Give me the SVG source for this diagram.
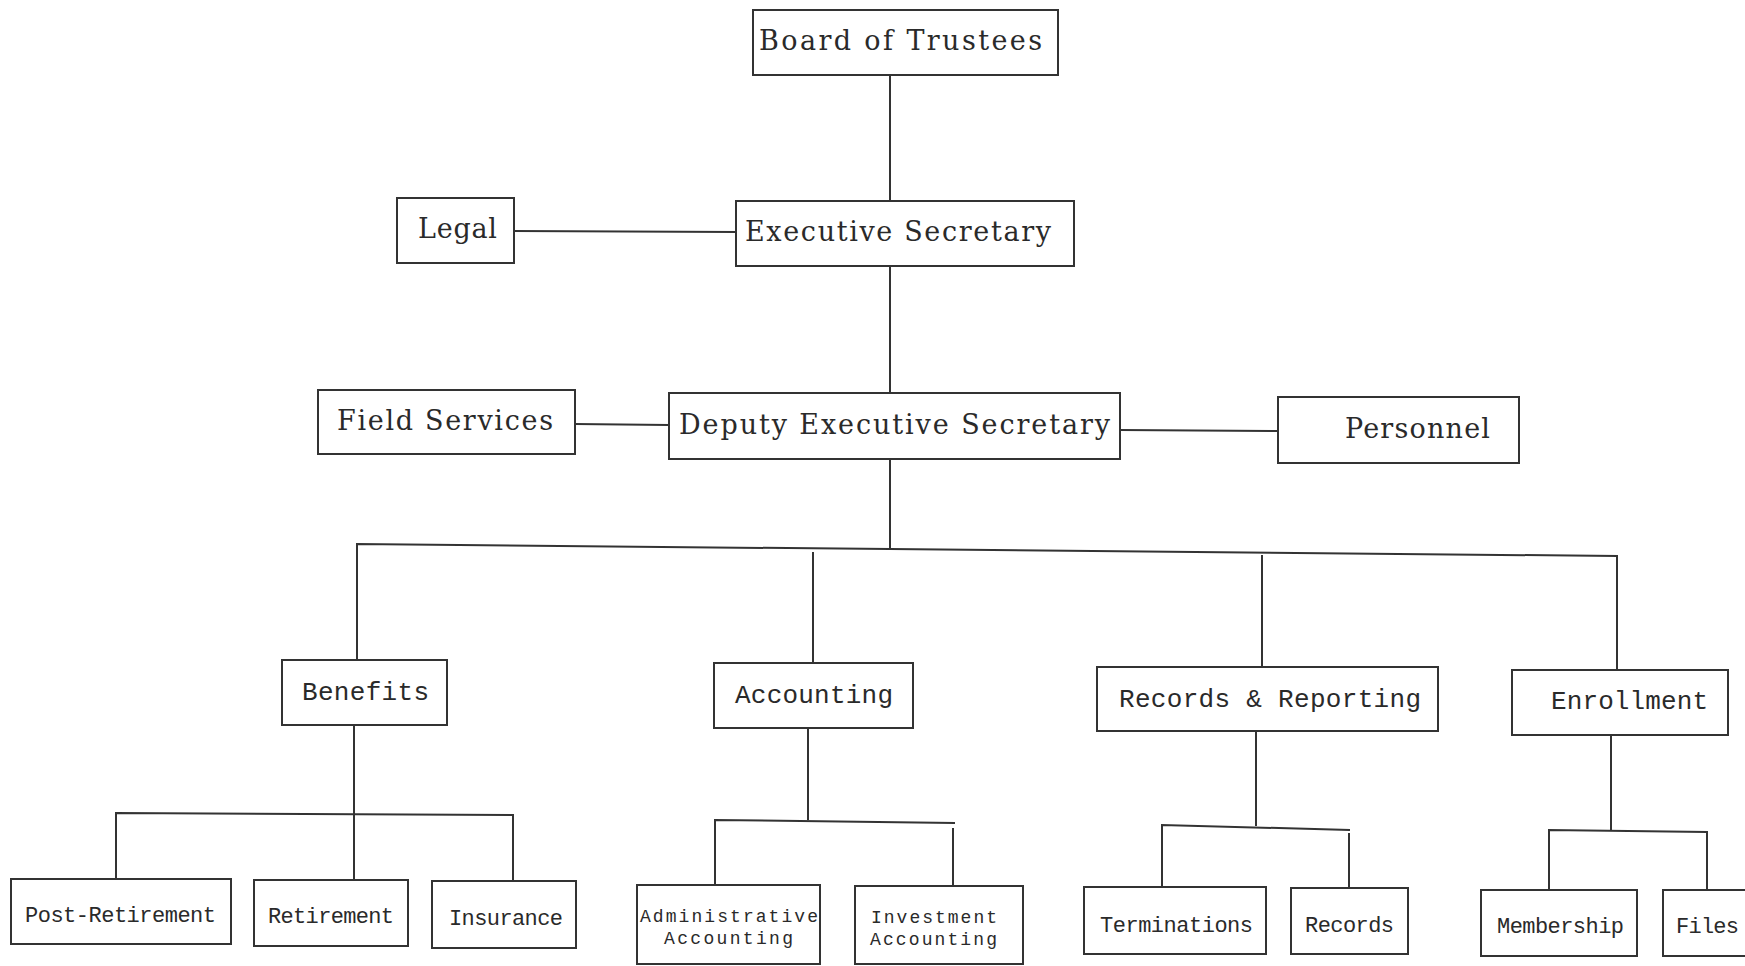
<svg xmlns="http://www.w3.org/2000/svg" width="1745" height="966" viewBox="0 0 1745 966">
<style>
  .box { fill: #ffffff; stroke: #333333; stroke-width: 2; }
  .ln { fill: none; stroke: #333333; stroke-width: 2; }
  .t1 { font-family: "DejaVu Serif", "Liberation Serif", serif; font-size: 27px; fill: #2a2a2a; }
  .t2 { font-family: "Liberation Mono", "DejaVu Sans Mono", monospace; font-size: 26px; fill: #2a2a2a; }
  .t3 { font-family: "Liberation Mono", "DejaVu Sans Mono", monospace; font-size: 22px; fill: #2a2a2a; }
  .t4 { font-family: "Liberation Mono", "DejaVu Sans Mono", monospace; font-size: 18px; fill: #2a2a2a; }
</style>
<rect x="0" y="0" width="1745" height="966" fill="#ffffff"/>
<g id="connectors">
  <line class="ln" x1="890" y1="75" x2="890" y2="201"/>
  <line class="ln" x1="514" y1="231" x2="736" y2="232"/>
  <line class="ln" x1="890" y1="266" x2="890" y2="393"/>
  <line class="ln" x1="575" y1="424" x2="669" y2="425"/>
  <line class="ln" x1="1120" y1="430" x2="1278" y2="431"/>
  <line class="ln" x1="890" y1="459" x2="890" y2="549"/>
  <polyline class="ln" points="357,660 357,544 1617,556 1617,670"/>
  <line class="ln" x1="813" y1="552" x2="813" y2="663"/>
  <line class="ln" x1="1262" y1="555" x2="1262" y2="667"/>
  <line class="ln" x1="354" y1="725" x2="354" y2="880"/>
  <polyline class="ln" points="116,879 116,813 513,815 513,881"/>
  <line class="ln" x1="808" y1="728" x2="808" y2="820"/>
  <polyline class="ln" points="715,885 715,820 955,823"/>
  <line class="ln" x1="953" y1="828" x2="953" y2="886"/>
  <line class="ln" x1="1256" y1="731" x2="1256" y2="826"/>
  <polyline class="ln" points="1162,888 1162,825 1350,830"/>
  <line class="ln" x1="1349" y1="833" x2="1349" y2="888"/>
  <line class="ln" x1="1611" y1="735" x2="1611" y2="831"/>
  <polyline class="ln" points="1549,890 1549,830 1707,832 1707,890"/>
</g>
<g id="board">
  <rect class="box" x="753" y="10" width="305" height="65"/>
  <text class="t1" x="759" y="50" textLength="283" lengthAdjust="spacing">Board of Trustees</text>
</g>
<g id="exec">
  <rect class="box" x="736" y="201" width="338" height="65"/>
  <text class="t1" x="745" y="241" textLength="306" lengthAdjust="spacing">Executive Secretary</text>
</g>
<g id="legal">
  <rect class="box" x="397" y="198" width="117" height="65"/>
  <text class="t1" x="418" y="238" textLength="79" lengthAdjust="spacing">Legal</text>
</g>
<g id="field">
  <rect class="box" x="318" y="390" width="257" height="64"/>
  <text class="t1" x="337" y="430" textLength="216" lengthAdjust="spacing">Field Services</text>
</g>
<g id="deputy">
  <rect class="box" x="669" y="393" width="451" height="66"/>
  <text class="t1" x="679" y="434" textLength="431" lengthAdjust="spacing">Deputy Executive Secretary</text>
</g>
<g id="personnel">
  <rect class="box" x="1278" y="397" width="241" height="66"/>
  <text class="t1" x="1345" y="438" textLength="145" lengthAdjust="spacing">Personnel</text>
</g>
<g id="benefits">
  <rect class="box" x="282" y="660" width="165" height="65"/>
  <text class="t2" x="302" y="700" textLength="127" lengthAdjust="spacing">Benefits</text>
</g>
<g id="accounting">
  <rect class="box" x="714" y="663" width="199" height="65"/>
  <text class="t2" x="735" y="703" textLength="158" lengthAdjust="spacing">Accounting</text>
</g>
<g id="records-reporting">
  <rect class="box" x="1097" y="667" width="341" height="64"/>
  <text class="t2" x="1119" y="707" textLength="302" lengthAdjust="spacing">Records &amp; Reporting</text>
</g>
<g id="enrollment">
  <rect class="box" x="1512" y="670" width="216" height="65"/>
  <text class="t2" x="1551" y="709" textLength="157" lengthAdjust="spacing">Enrollment</text>
</g>
<g id="post-retirement">
  <rect class="box" x="11" y="879" width="220" height="65"/>
  <text class="t3" x="25" y="922" textLength="191" lengthAdjust="spacing">Post-Retirement</text>
</g>
<g id="retirement">
  <rect class="box" x="254" y="880" width="154" height="66"/>
  <text class="t3" x="268" y="923" textLength="126" lengthAdjust="spacing">Retirement</text>
</g>
<g id="insurance">
  <rect class="box" x="432" y="881" width="144" height="67"/>
  <text class="t3" x="449" y="925" textLength="114" lengthAdjust="spacing">Insurance</text>
</g>
<g id="admin-accounting">
  <rect class="box" x="637" y="885" width="183" height="79"/>
  <text class="t4" x="640" y="922" textLength="178" lengthAdjust="spacing">Administrative</text>
  <text class="t4" x="664" y="944" textLength="129" lengthAdjust="spacing">Accounting</text>
</g>
<g id="investment-accounting">
  <rect class="box" x="855" y="886" width="168" height="78"/>
  <text class="t4" x="871" y="923" textLength="126" lengthAdjust="spacing">Investment</text>
  <text class="t4" x="870" y="945" textLength="127" lengthAdjust="spacing">Accounting</text>
</g>
<g id="terminations">
  <rect class="box" x="1084" y="887" width="182" height="67"/>
  <text class="t3" x="1100" y="932" textLength="153" lengthAdjust="spacing">Terminations</text>
</g>
<g id="records">
  <rect class="box" x="1291" y="888" width="117" height="66"/>
  <text class="t3" x="1305" y="932" textLength="89" lengthAdjust="spacing">Records</text>
</g>
<g id="membership">
  <rect class="box" x="1481" y="890" width="156" height="66"/>
  <text class="t3" x="1497" y="933" textLength="127" lengthAdjust="spacing">Membership</text>
</g>
<g id="files">
  <rect class="box" x="1663" y="890" width="100" height="66"/>
  <text class="t3" x="1676" y="933" textLength="63" lengthAdjust="spacing">Files</text>
</g>
</svg>
